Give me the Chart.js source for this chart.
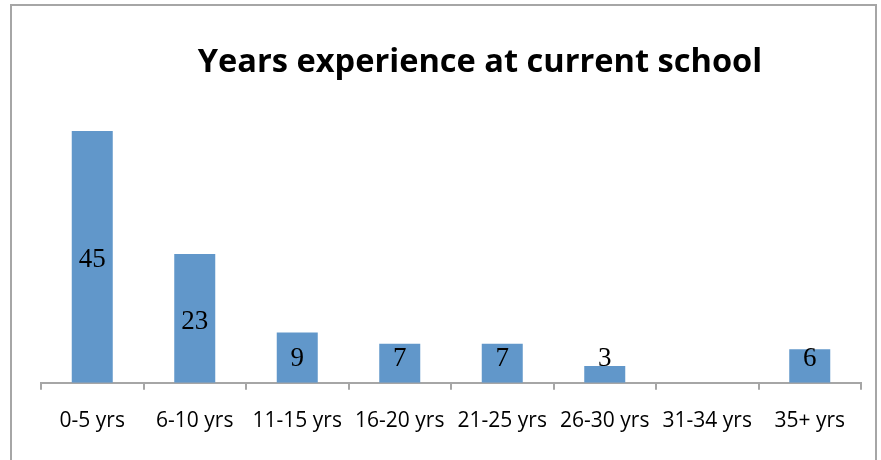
<!DOCTYPE html>
<html>
<head>
<meta charset="utf-8">
<script src="https://cdn.jsdelivr.net/npm/chart.js@4"></script>
<style>
    body { margin: 0; background: #fff; }
    #wrap { position: relative; width: 881px; height: 460px; }
    #frame { position: absolute; left: 10px; top: 4px; width: 867px; height: 470px; border: 2px solid #a6a6a6; box-sizing: border-box; }
</style>
</head>
<body>
<div id="wrap">
    <canvas id="myChart" width="881" height="460"></canvas>
    <div id="frame"></div>
</div>
<script>
const chartTitle = 'Years experience at current school';
const labels = ['0-5 yrs', '6-10 yrs', '11-15 yrs', '16-20 yrs', '21-25 yrs', '26-30 yrs', '31-34 yrs', '35+ yrs'];
const values = [45, 23, 9, 7, 7, 3, 0, 6];

// bar labels: centred in the bar, but never lower than near the base
const barLabels = {
    id: 'barLabels',
    afterDatasetsDraw(chart) {
        const ctx = chart.ctx;
        const meta = chart.getDatasetMeta(0);
        ctx.save();
        ctx.font = '27px "Liberation Serif"';
        ctx.fillStyle = '#000';
        ctx.textAlign = 'center';
        ctx.textBaseline = 'middle';
        meta.data.forEach((bar, i) => {
            if (!values[i]) return;
            let y = Math.min((bar.y + bar.base) / 2 + 3, bar.base - 24);
            ctx.fillText(values[i], bar.x, y);
        });
        ctx.restore();
    }
};

const titlePlugin = {
    id: 'titleText',
    afterDraw(chart) {
        const ctx = chart.ctx;
        ctx.save();
        ctx.font = 'bold 32.6px "Open Sans"';
        ctx.fillStyle = '#000';
        ctx.textAlign = 'center';
        ctx.textBaseline = 'middle';
        ctx.fillText(chartTitle, 480, 63);
        ctx.restore();
    }
};

const data = {
    labels: labels,
    datasets: [{
        data: values,
        backgroundColor: '#6197CA',
        categoryPercentage: 0.4,
        barPercentage: 1.0,
    }]
};

const config = {
    type: 'bar',
    data: data,
    options: {
        responsive: false,
        animation: false,
        layout: { padding: { left: 41, right: 20, top: 103, bottom: 7 } },
        plugins: {
            legend: { display: false },
            tooltip: { enabled: false },
            title: { display: false },
        },
        scales: {
            x: {
                grid: { offset: true, drawOnChartArea: false, tickLength: 7, color: '#a6a6a6', lineWidth: 2 },
                border: { color: '#a6a6a6', width: 2 },
                ticks: { color: '#000', font: { family: 'Open Sans', size: 21 }, padding: 19, maxRotation: 0 },
            },
            y: { display: false, min: 0, max: 50 },
        }
    },
    plugins: [barLabels, titlePlugin]
};

const myChart = new Chart(document.getElementById('myChart'), config);
</script>
</body>
</html>
